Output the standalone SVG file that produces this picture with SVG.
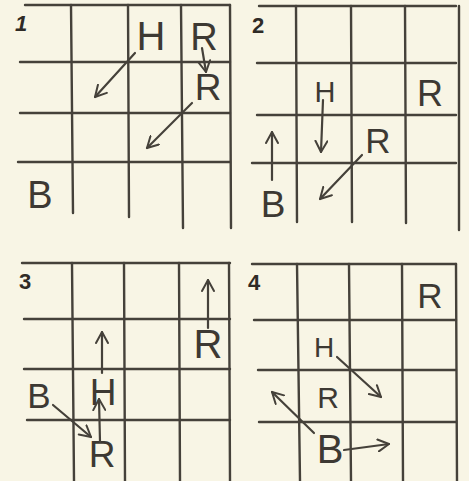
<svg xmlns="http://www.w3.org/2000/svg" width="469" height="481" viewBox="0 0 469 481">
<defs>
<style>
.bg{fill:#f8f5e5}
.g line{stroke:#45413a;stroke-width:2.4;stroke-linecap:round}
.a{stroke:#45413a;stroke-width:2.2;fill:none;stroke-linecap:round;marker-end:url(#v)}
.t{font-family:"Liberation Sans",Arial,sans-serif;fill:#3d3933;text-anchor:middle}
.n{font-family:"Liberation Sans",Arial,sans-serif;fill:#2f2b26;text-anchor:middle;font-weight:bold;font-size:22px}
</style>
<marker id="v" viewBox="0 0 14 14" refX="12" refY="7" markerWidth="14" markerHeight="14" markerUnits="userSpaceOnUse" orient="auto">
<path d="M1,1 L12,7 L1,13" fill="none" stroke="#45413a" stroke-width="2" stroke-linecap="round" stroke-linejoin="round"/>
</marker>
</defs>
<rect class="bg" x="0" y="0" width="469" height="481"/>

<g id="grid1" class="g">
<line x1="25" y1="5" x2="230" y2="5"/>
<line x1="20" y1="62" x2="230" y2="62"/>
<line x1="20" y1="113" x2="230" y2="113"/>
<line x1="18" y1="162" x2="230" y2="162"/>
<line x1="71" y1="5" x2="73" y2="213"/>
<line x1="128" y1="5" x2="129" y2="217"/>
<line x1="181" y1="5" x2="183" y2="228"/>
<line x1="230" y1="5" x2="231" y2="228"/>
</g>
<g id="grid2" class="g">
<line x1="259" y1="6" x2="456" y2="6"/>
<line x1="257" y1="63" x2="456" y2="63"/>
<line x1="257" y1="115" x2="456" y2="115"/>
<line x1="252" y1="163" x2="456" y2="163"/>
<line x1="296" y1="6" x2="297" y2="222"/>
<line x1="351" y1="6" x2="352" y2="222"/>
<line x1="405" y1="6" x2="406" y2="223"/>
<line x1="459" y1="6" x2="459" y2="230"/>
</g>
<g id="grid3" class="g">
<line x1="22" y1="263" x2="230" y2="263"/>
<line x1="24" y1="319" x2="230" y2="319"/>
<line x1="24" y1="369" x2="230" y2="369"/>
<line x1="27" y1="420" x2="230" y2="420"/>
<line x1="72" y1="263" x2="74" y2="481"/>
<line x1="124" y1="263" x2="125" y2="481"/>
<line x1="179" y1="263" x2="180" y2="481"/>
<line x1="229" y1="263" x2="230" y2="481"/>
</g>
<g id="grid4" class="g">
<line x1="252" y1="264" x2="456" y2="264"/>
<line x1="254" y1="320" x2="456" y2="320"/>
<line x1="258" y1="370" x2="456" y2="370"/>
<line x1="259" y1="422" x2="456" y2="422"/>
<line x1="297" y1="264" x2="300" y2="481"/>
<line x1="349" y1="264" x2="351" y2="481"/>
<line x1="402" y1="264" x2="403" y2="481"/>
<line x1="456" y1="264" x2="457" y2="481"/>
</g>

<g id="labels">
<text class="n" x="21" y="31" font-style="italic">1</text>
<text class="n" x="258" y="33">2</text>
<text class="n" x="25" y="289">3</text>
<text class="n" x="254" y="290">4</text>
</g>

<g id="board1">
<text id="p1-H" class="t" x="151" y="50" font-size="40">H</text>
<text id="p1-R1" class="t" x="204" y="50" font-size="38">R</text>
<text id="p1-R2" class="t" x="208" y="100" font-size="37">R</text>
<text id="p1-B" class="t" x="40" y="208" font-size="38">B</text>
</g>
<g id="board2">
<text id="p2-H" class="t" x="325" y="102" font-size="29">H</text>
<text id="p2-R1" class="t" x="430" y="106" font-size="36">R</text>
<text id="p2-R2" class="t" x="378" y="153" font-size="35">R</text>
<text id="p2-B" class="t" x="273" y="217" font-size="37">B</text>
</g>
<g id="board3">
<text id="p3-R1" class="t" x="208" y="358" font-size="40">R</text>
<text id="p3-H" class="t" x="103" y="405" font-size="37">H</text>
<text id="p3-B" class="t" x="39" y="408" font-size="35">B</text>
<text id="p3-R2" class="t" x="102" y="467" font-size="37">R</text>
</g>
<g id="board4">
<text id="p4-R1" class="t" x="430" y="308" font-size="35">R</text>
<text id="p4-H" class="t" x="324" y="357" font-size="28">H</text>
<text id="p4-R2" class="t" x="328" y="408" font-size="30">R</text>
<text id="p4-B" class="t" x="330" y="463" font-size="40">B</text>
</g>

<g id="connectors">
<line class="a" x1="135" y1="53" x2="95" y2="97"/>
<line class="a" x1="202" y1="48" x2="206" y2="72"/>
<line class="a" x1="192" y1="103" x2="147" y2="148"/>
<line class="a" x1="323" y1="100" x2="321" y2="152"/>
<line class="a" x1="272" y1="180" x2="272" y2="132"/>
<line class="a" x1="362" y1="155" x2="320" y2="199"/>
<line class="a" x1="208" y1="328" x2="208" y2="280"/>
<line class="a" x1="102" y1="373" x2="102" y2="332"/>
<line class="a" x1="100" y1="442" x2="99" y2="399"/>
<line class="a" x1="53" y1="405" x2="91" y2="437"/>
<line class="a" x1="337" y1="357" x2="381" y2="397"/>
<line class="a" x1="314" y1="433" x2="272" y2="392"/>
<line class="a" x1="344" y1="450" x2="389" y2="444"/>
</g>
</svg>
